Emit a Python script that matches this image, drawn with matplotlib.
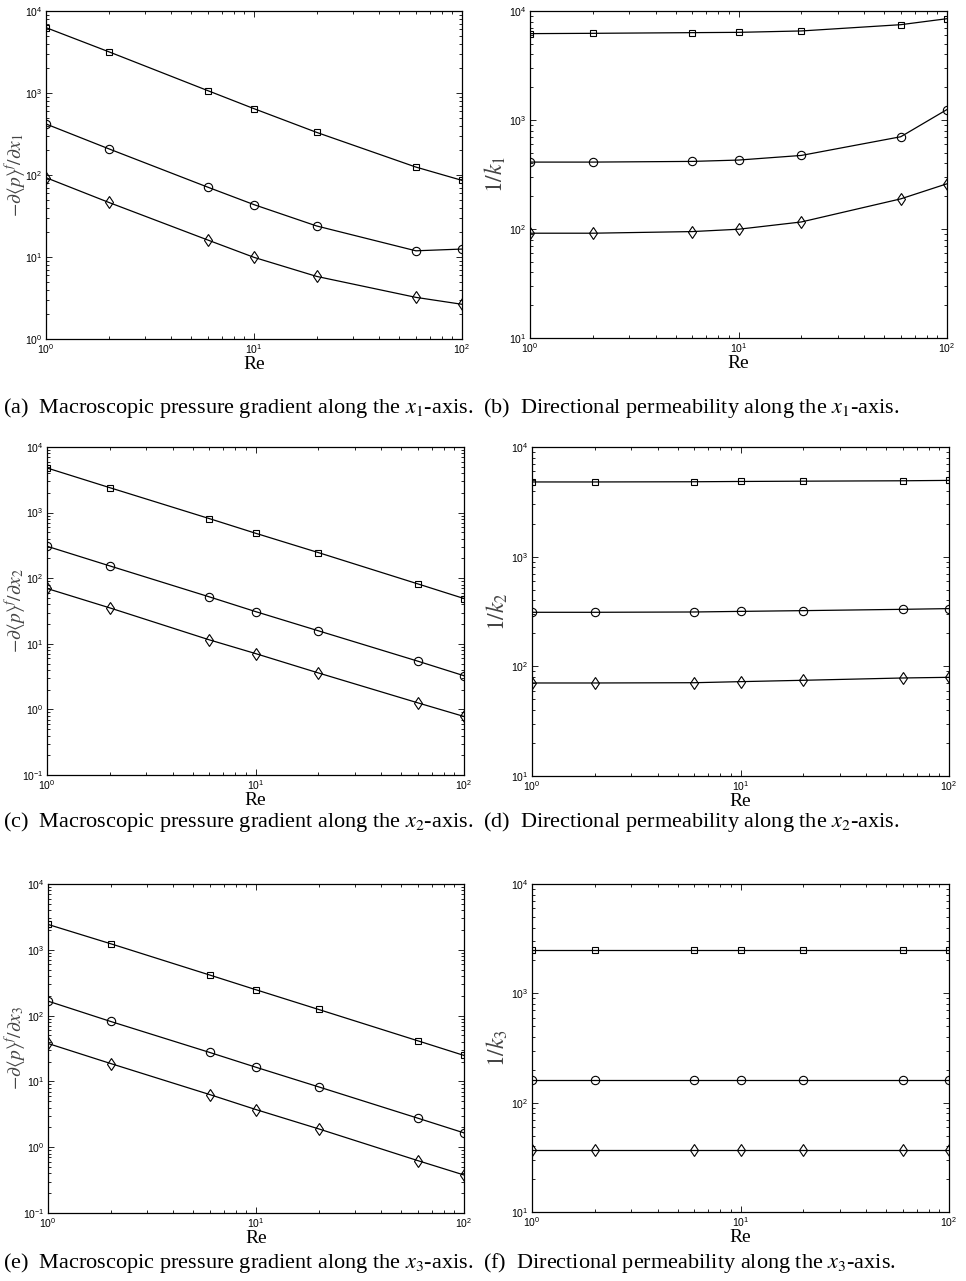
#------
# Gradiente de presion macroscopico y permeabilidad direccional vs Re
#------
import numpy as np
import matplotlib
matplotlib.use("Agg")
import matplotlib.pyplot as plt

plt.rcParams['font.family'] = ['Liberation Sans', 'DejaVu Sans']
plt.rcParams['mathtext.fontset'] = 'stix'

#------ Datos
Re = [1, 2, 6, 10, 20, 60, 100]

# (a) gradiente x1
grad1_sq = [6270, 3190, 1068, 644, 331, 125, 86]
grad1_ci = [419, 209, 71, 43.5, 23.9, 11.9, 12.5]
grad1_di = [92.8, 46.4, 16.1, 9.9, 5.8, 3.22, 2.65]
# (b) permeabilidad x1
perm1_sq = [6200, 6240, 6330, 6370, 6560, 7490, 8500]
perm1_ci = [411, 411, 417, 429, 473, 702, 1248]
perm1_di = [91.5, 91.5, 94.7, 99.5, 116, 189, 260]
# (c) gradiente x2
grad2_sq = [4790, 2400, 811, 485, 246, 82, 49]
grad2_ci = [307, 154, 52, 31, 15.8, 5.44, 3.26]
grad2_di = [69.7, 35.3, 11.5, 7.1, 3.6, 1.26, 0.78]
# (d) permeabilidad x2
perm2_sq = [4800, 4800, 4820, 4850, 4880, 4920, 4960]
perm2_ci = [311, 311, 313, 317, 322, 331, 336]
perm2_di = [70.5, 70.5, 70.9, 72.5, 74.6, 78.3, 79.4]
# (e) gradiente x3
grad3_sq = [2430, 1237, 413, 247, 124, 41.4, 24.8]
grad3_ci = [166, 81.5, 27.5, 16.4, 8.26, 2.76, 1.65]
grad3_di = [37.7, 18.7, 6.3, 3.73, 1.90, 0.625, 0.378]
# (f) permeabilidad x3
perm3_sq = [2470, 2470, 2470, 2470, 2470, 2470, 2470]
perm3_ci = [162, 162, 162, 162, 162, 162, 162]
perm3_di = [36.9, 36.9, 36.9, 36.9, 36.9, 36.9, 36.9]

ylabels = [r'$-\partial\langle p\rangle^f/\partial x_1$', r'$1/k_1$',
           r'$-\partial\langle p\rangle^f/\partial x_2$', r'$1/k_2$',
           r'$-\partial\langle p\rangle^f/\partial x_3$', r'$1/k_3$']
captions = [r'(a)  Macroscopic pressure gradient along the $x_1$-axis.',
            r'(b)  Directional permeability along the $x_1$-axis.',
            r'(c)  Macroscopic pressure gradient along the $x_2$-axis.',
            r'(d)  Directional permeability along the $x_2$-axis.',
            r'(e)  Macroscopic pressure gradient along the $x_3$-axis.',
            r'(f)  Directional permeability along the $x_3$-axis.']
ylims = [(1e0, 1e4), (1e1, 1e4), (1e-1, 1e4), (1e1, 1e4), (1e-1, 1e4), (1e1, 1e4)]

series = [(grad1_sq, grad1_ci, grad1_di), (perm1_sq, perm1_ci, perm1_di),
          (grad2_sq, grad2_ci, grad2_di), (perm2_sq, perm2_ci, perm2_di),
          (grad3_sq, grad3_ci, grad3_di), (perm3_sq, perm3_ci, perm3_di)]

#------ Posiciones de los ejes en pixeles (izq, der, arriba, abajo)
W, H = 966, 1281
boxes = [(46, 462, 11, 339), (530, 947, 11, 338),
         (47, 464, 447, 775), (532, 949, 447, 776),
         (48, 464, 884, 1213), (532, 949, 884, 1212)]
ylab_x = [27, 508, 27, 510, 27, 510]   # borde derecho de la etiqueta y, en pixeles
ylab_fs = [14, 17, 14, 17, 14, 17]
cap_y = [408, 408, 822, 822, 1263, 1263]
cap_x = [3, 483, 3, 483, 3, 483]

fig = plt.figure(figsize=(W/100, H/100), dpi=100)

for i in range(6):
    l, r, t, b = boxes[i]
    ax = fig.add_axes([l/W, 1 - b/H, (r - l)/W, (b - t)/H])
    sq, ci, di = series[i]
    ax.loglog(Re, sq, 'k-s', mfc='none', ms=5, lw=0.9, mew=0.8)
    ax.loglog(Re, ci, 'k-o', mfc='none', ms=6, lw=0.9, mew=0.8)
    ax.loglog(Re, di, 'k-d', mfc='none', ms=6, lw=0.9, mew=0.8)
    ax.set_xlim(1, 100)
    ax.set_ylim(*ylims[i])
    ax.tick_params(which='both', direction='in', top=True, right=True,
                   labelsize=7.5, width=0.6, pad=2.5)
    ax.tick_params(which='major', length=4)
    ax.tick_params(which='minor', length=2.5)
    for s in ax.spines.values():
        s.set_linewidth(0.9)
    ax.set_xlabel('Re', family='Liberation Serif', fontsize=14, labelpad=0)
    ax.set_ylabel(ylabels[i], fontsize=ylab_fs[i], color='#444444')
    ax.yaxis.set_label_coords((ylab_x[i] - l)/(r - l), 0.5)
    fig.text(cap_x[i]/W, 1 - cap_y[i]/H, captions[i], family='Liberation Serif',
             fontsize=16, va='center', ha='left')

fig.savefig('out.png', dpi=100)
